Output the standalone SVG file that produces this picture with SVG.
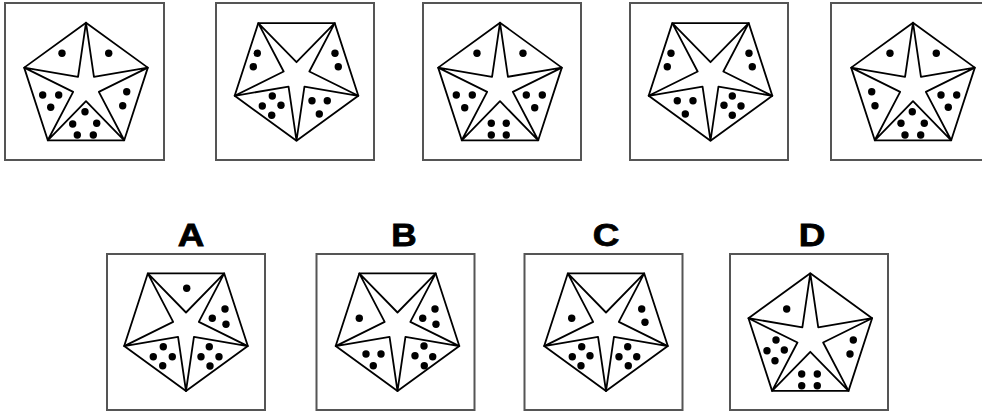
<svg xmlns="http://www.w3.org/2000/svg" width="982" height="412" viewBox="0 0 982 412">
<style>
.box{fill:#fff;stroke:#555;stroke-width:2}
.fig{fill:none;stroke:#000;stroke-width:1.8;stroke-linejoin:round}
circle{fill:#000}
.lbl{font-family:"Liberation Sans",Arial,sans-serif;font-weight:bold;font-size:32px;fill:#000;stroke:#000;stroke-width:0.8;text-anchor:middle}
</style>
<defs>
<g id="up">
<path class="fig" d="M0,-65 L61.82,-20.09 L38.21,52.59 L-38.21,52.59 L-61.82,-20.09 Z"/>
<path class="fig" d="M0,-65 L7.94,-10.92 L61.82,-20.09 L12.84,4.17 L38.21,52.59 L0,13.5 L-38.21,52.59 L-12.84,4.17 L-61.82,-20.09 L-7.94,-10.92 Z"/>
</g>
<g id="down">
<path class="fig" d="M0,65 L61.82,20.09 L38.21,-52.59 L-38.21,-52.59 L-61.82,20.09 Z"/>
<path class="fig" d="M0,65 L7.94,10.92 L61.82,20.09 L12.84,-4.17 L38.21,-52.59 L0,-13.5 L-38.21,-52.59 L-12.84,-4.17 L-61.82,20.09 L-7.94,10.92 Z"/>
</g>
</defs>
<rect width="982" height="412" fill="#fff"/>

<g id="fig1">
<rect class="box" x="5" y="3" width="159" height="157"/>
<use href="#up" x="86" y="87.7"/>
<circle cx="62" cy="53.3" r="3.7"/><circle cx="108.7" cy="53.3" r="3.7"/>
<circle cx="42.7" cy="95" r="3.7"/><circle cx="58.7" cy="95" r="3.7"/><circle cx="50.7" cy="107.3" r="3.7"/>
<circle cx="126.7" cy="91.7" r="3.7"/><circle cx="122.7" cy="105.7" r="3.7"/>
<circle cx="85" cy="111.7" r="3.7"/><circle cx="72.7" cy="124" r="3.7"/><circle cx="96.7" cy="123.3" r="3.7"/><circle cx="77.3" cy="135" r="3.7"/><circle cx="93.3" cy="135" r="3.7"/>
</g>

<g id="fig2">
<rect class="box" x="216" y="3" width="158" height="157"/>
<use href="#down" x="296.5" y="75.7"/>
<circle cx="257.3" cy="53.3" r="3.7"/><circle cx="253.3" cy="66.7" r="3.7"/>
<circle cx="335" cy="53.3" r="3.7"/><circle cx="338.3" cy="66.7" r="3.7"/>
<circle cx="272.3" cy="96" r="3.7"/><circle cx="262.3" cy="106" r="3.7"/><circle cx="281" cy="105.3" r="3.7"/><circle cx="271.7" cy="115.3" r="3.7"/>
<circle cx="312" cy="100.7" r="3.7"/><circle cx="327.3" cy="100.7" r="3.7"/><circle cx="319.3" cy="114" r="3.7"/>
</g>

<g id="fig3">
<rect class="box" x="423" y="3" width="158" height="157"/>
<use href="#up" x="500" y="87.7"/>
<circle cx="477" cy="53.3" r="3.7"/><circle cx="523" cy="53.3" r="3.7"/>
<circle cx="456.3" cy="95" r="3.7"/><circle cx="472.3" cy="95" r="3.7"/><circle cx="464.7" cy="107.7" r="3.7"/>
<circle cx="526.3" cy="95" r="3.7"/><circle cx="542.3" cy="95" r="3.7"/><circle cx="534.7" cy="107.7" r="3.7"/>
<circle cx="491.3" cy="123.3" r="3.7"/><circle cx="506.3" cy="123.3" r="3.7"/><circle cx="491.3" cy="135" r="3.7"/><circle cx="506.3" cy="135" r="3.7"/>
</g>

<g id="fig4">
<rect class="box" x="630" y="3" width="158" height="157"/>
<use href="#down" x="710.5" y="75.7"/>
<circle cx="671" cy="53.3" r="3.7"/><circle cx="667.3" cy="66.7" r="3.7"/>
<circle cx="749" cy="53.3" r="3.7"/><circle cx="752.3" cy="66.7" r="3.7"/>
<circle cx="677.3" cy="100.7" r="3.7"/><circle cx="693" cy="100.7" r="3.7"/><circle cx="685.3" cy="114" r="3.7"/>
<circle cx="732.3" cy="96" r="3.7"/><circle cx="724" cy="105.3" r="3.7"/><circle cx="741" cy="106" r="3.7"/><circle cx="732.3" cy="115.3" r="3.7"/>
</g>

<g id="fig5">
<rect class="box" x="831" y="3" width="158" height="157"/>
<use href="#up" x="913" y="87.7"/>
<circle cx="890" cy="53.3" r="3.7"/><circle cx="936.3" cy="53.3" r="3.7"/>
<circle cx="871.7" cy="91.7" r="3.7"/><circle cx="875" cy="105.7" r="3.7"/>
<circle cx="941" cy="95" r="3.7"/><circle cx="956.7" cy="95" r="3.7"/><circle cx="948.3" cy="107.3" r="3.7"/>
<circle cx="912.3" cy="111.7" r="3.7"/><circle cx="901" cy="123.3" r="3.7"/><circle cx="924.3" cy="123.3" r="3.7"/><circle cx="905" cy="135" r="3.7"/><circle cx="920.7" cy="135" r="3.7"/>
</g>

<g id="optA">
<text class="lbl" transform="translate(191,246) scale(1.15,1)">A</text>
<rect class="box" x="107" y="254" width="158" height="156"/>
<use href="#down" x="186" y="326"/>
<circle cx="186.7" cy="288.3" r="3.7"/>
<circle cx="225" cy="309" r="3.7"/><circle cx="212.3" cy="318.3" r="3.7"/><circle cx="226" cy="324.3" r="3.7"/>
<circle cx="163.3" cy="346.7" r="3.7"/><circle cx="153.3" cy="356.7" r="3.7"/><circle cx="172.3" cy="356.7" r="3.7"/><circle cx="162.7" cy="365.7" r="3.7"/>
<circle cx="209.3" cy="346.7" r="3.7"/><circle cx="201" cy="356.7" r="3.7"/><circle cx="219" cy="356.7" r="3.7"/><circle cx="210" cy="366" r="3.7"/>
</g>

<g id="optB">
<text class="lbl" transform="translate(404,246) scale(1.1,1)">B</text>
<rect class="box" x="316.5" y="254" width="158" height="156"/>
<use href="#down" x="397.5" y="326"/>
<circle cx="359.3" cy="318.3" r="3.7"/>
<circle cx="435" cy="309" r="3.7"/><circle cx="422.7" cy="318.3" r="3.7"/><circle cx="436" cy="324.3" r="3.7"/>
<circle cx="366" cy="354" r="3.7"/><circle cx="381" cy="354" r="3.7"/><circle cx="373.3" cy="365.7" r="3.7"/>
<circle cx="424" cy="346" r="3.7"/><circle cx="415" cy="355.7" r="3.7"/><circle cx="432.7" cy="356.7" r="3.7"/><circle cx="424.3" cy="365.7" r="3.7"/>
</g>

<g id="optC">
<text class="lbl" transform="translate(606,246) scale(1.15,1)">C</text>
<rect class="box" x="524.5" y="254" width="158" height="156"/>
<use href="#down" x="606" y="326"/>
<circle cx="571.7" cy="318.3" r="3.7"/>
<circle cx="641.7" cy="309" r="3.7"/><circle cx="645" cy="322.3" r="3.7"/>
<circle cx="581.7" cy="346.7" r="3.7"/><circle cx="572.3" cy="356.7" r="3.7"/><circle cx="590" cy="355.7" r="3.7"/><circle cx="581" cy="365.7" r="3.7"/>
<circle cx="627.7" cy="346.7" r="3.7"/><circle cx="619" cy="356.7" r="3.7"/><circle cx="636.7" cy="356.7" r="3.7"/><circle cx="628.3" cy="365.7" r="3.7"/>
</g>

<g id="optD">
<text class="lbl" transform="translate(812,246) scale(1.15,1)">D</text>
<rect class="box" x="730" y="254" width="158" height="156"/>
<use href="#up" x="810.3" y="338.3"/>
<circle cx="786.7" cy="309" r="3.7"/>
<circle cx="776" cy="340" r="3.7"/><circle cx="767" cy="350.7" r="3.7"/><circle cx="784.3" cy="350" r="3.7"/><circle cx="775" cy="360.7" r="3.7"/>
<circle cx="853.3" cy="340" r="3.7"/><circle cx="850" cy="354" r="3.7"/>
<circle cx="801.7" cy="374" r="3.7"/><circle cx="817.3" cy="374" r="3.7"/><circle cx="801.7" cy="385.7" r="3.7"/><circle cx="817.3" cy="385.7" r="3.7"/>
</g>
</svg>
